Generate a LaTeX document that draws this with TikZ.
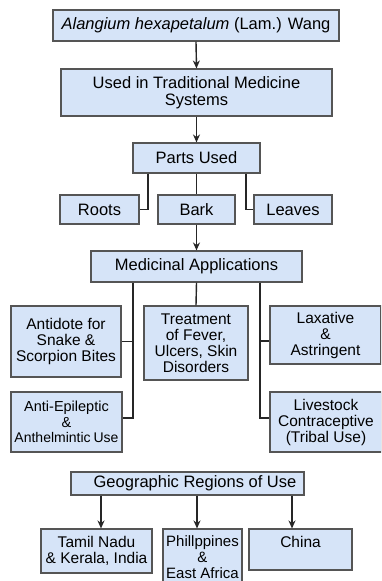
\documentclass[tikz,border=0pt]{standalone}
\usepackage{fontspec}
\setmainfont{Liberation Sans}
\usetikzlibrary{arrows.meta,calc}
\definecolor{boxfill}{RGB}{214,228,248}
\definecolor{boxline}{RGB}{85,85,85}
\begin{document}
\begin{tikzpicture}[x=1pt,y=-1pt,
 box/.style={draw=boxline, fill=boxfill, line width=1.1pt, align=center, inner sep=0pt, font=\fontsize{16.5}{17}\selectfont},
 sub/.style={box, font=\fontsize{15.5}{16}\selectfont},
 link/.style={line width=1.4pt, draw=black!85},
 arr/.style={link, -{Stealth[length=8pt,width=7pt]}}]
\path[use as bounding box, fill=white] (0,0) rectangle (381,581);
\clip (0,0) rectangle (381,581);

\node[box, minimum width=286pt, minimum height=31pt] (b1) at (196,25.5) {\textit{Alangium hexapetalum} (Lam.) Wang};
\node[box, minimum width=271pt, minimum height=47pt] (b2) at (196.5,92.5) {Used in Traditional Medicine\\Systems};
\node[box, minimum width=127pt, minimum height=30pt] (parts) at (196.5,158) {Parts Used};
\node[box, minimum width=79pt, minimum height=29pt] (roots) at (99.5,209.5) {Roots};
\node[box, minimum width=77pt, minimum height=29pt] (bark) at (196.5,209.5) {Bark};
\node[box, minimum width=78pt, minimum height=29pt] (leaves) at (293,209.5) {Leaves};
\node[box, minimum width=211pt, minimum height=31pt] (med) at (196.5,266.5) {Medicinal Applications};

\node[sub, minimum width=110pt, minimum height=71pt] (antidote) at (66,341.5) {Antidote for\\Snake \&\\Scorpion Bites};
\node[sub, minimum width=104pt, minimum height=74pt] (treat) at (196,343) {Treatment\\of Fever,\\Ulcers, Skin\\Disorders};
\node[sub, minimum width=111pt, minimum height=58pt] (lax) at (325.5,335) {Laxative\\\&\\Astringent};
\node[sub, minimum width=111pt, minimum height=60pt, font=\fontsize{14.5}{15.5}\selectfont] (antiep) at (66.5,422) {Anti-Epileptic\\\&\\{\fontsize{14}{15}\selectfont Anthelmintic\hspace{-1pt} Use}};
\node[sub, minimum width=112pt, minimum height=60pt] (live) at (326,422) {Livestock\\Contraceptive\\(Tribal Use)};

\node[box, minimum width=233pt, minimum height=23pt] (geo) at (187.5,483.5) {\hspace*{15pt}Geographic Regions of Use};
\node[sub, minimum width=111pt, minimum height=44pt] (tamil) at (96.5,551) {Tamil Nadu\\\& Kerala, India};
\node[sub, minimum width=79pt, minimum height=56pt, font=\fontsize{15}{15.7}\selectfont] (phil) at (202.5,557) {Phillppines\\\&\\East Africa};
\node[sub, minimum width=103pt, minimum height=41pt] (china) at (300.5,549.5) {China\\\mbox{}};

\draw[arr] (b1.south) -- (b2.north);
\draw[arr] (b2.south) -- (parts.north);
\draw[link] (parts.south) -- (bark.north);
\draw[link] ($(parts.south)+(-48.5,0)$) |- (roots.east);
\draw[link] ($(parts.south)+(49.5,0)$) |- (leaves.west);
\draw[arr] (bark.south) -- (med.north);

\coordinate (ml) at ($(med.south)+(-63.5,0)$);
\coordinate (mr) at ($(med.south)+(63.5,0)$);
\coordinate (laxin) at ([yshift=-6pt]lax.west);
\draw[link] (med.south) -- (treat.north);
\draw[link] (ml) |- ([yshift=4pt]antiep.east);
\draw[link] (ml |- antidote.east) -- (antidote.east);
\draw[link] (mr) |- ([yshift=4pt]live.west);
\draw[link] (mr |- laxin) -- (laxin);

\draw[arr] ([xshift=4.5pt]tamil.north |- geo.south) -- ([xshift=4.5pt]tamil.north);
\draw[arr] ([xshift=-5.5pt]phil.north |- geo.south) -- ([xshift=-5.5pt]phil.north);
\draw[arr] ([xshift=-8.5pt]china.north |- geo.south) -- ([xshift=-8.5pt]china.north);
\end{tikzpicture}
\end{document}
